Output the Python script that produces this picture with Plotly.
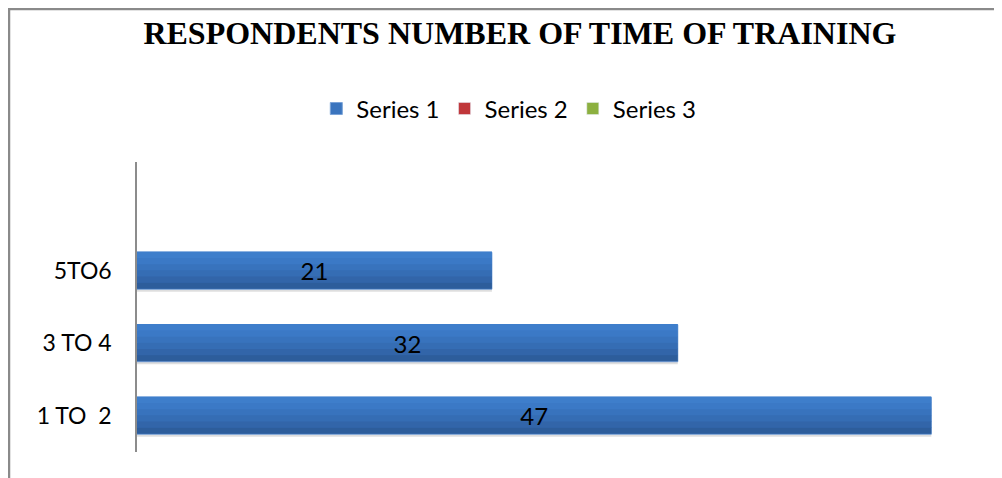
import plotly.graph_objects as go

categories = ["1 TO  2", "3 TO 4", "5TO6"]
series1 = [47, 32, 21]
series_names = ["Series 1", "Series 2", "Series 3"]
series_colors = ["#3a74be", "#c0373a", "#8cb040"]

# bar look: dark base with lighter bands towards the top (gradient-like)
bar_width = 0.51
band_colors = ["#2d5d9b", "#3265a9", "#356db4", "#3873bd", "#3b79c6", "#3e7ecb"]

fig = go.Figure()

# soft shadow under each bar
fig.add_trace(go.Bar(
    y=categories, x=series1, orientation="h", showlegend=False, hoverinfo="skip",
    marker=dict(color="rgba(0,0,0,0.13)", line=dict(width=0)),
    width=bar_width, offset=-bar_width / 2 - 0.035,
))

fig.add_trace(go.Bar(
    y=categories, x=series1, orientation="h", name=series_names[0],
    marker=dict(color=series_colors[0], line=dict(color="#7aa3d8", width=1)),
    width=bar_width,
    text=[str(v) for v in series1], textposition="none",
))

# gradient bands, drawn from the same values
n = len(band_colors)
step = bar_width / n
for i, c in enumerate(band_colors):
    fig.add_trace(go.Bar(
        y=categories, x=series1, orientation="h", showlegend=False, hoverinfo="skip",
        marker=dict(color=c, line=dict(width=0)),
        width=step + 0.005, offset=-bar_width / 2 + i * step + 0.006,
    ))

# value labels on top
fig.add_trace(go.Bar(
    y=categories, x=series1, orientation="h", showlegend=False, hoverinfo="skip",
    marker=dict(color="rgba(0,0,0,0)", line=dict(width=0)),
    width=bar_width,
    text=[str(v) for v in series1], textposition="inside", insidetextanchor="middle",
    textfont=dict(family="Lato, Open Sans, sans-serif", size=24, color="black"),
    constraintext="none",
))

# empty series, shown in the legend only
for name, color in zip(series_names[1:], series_colors[1:]):
    fig.add_trace(go.Bar(y=[None], x=[None], orientation="h", name=name,
                         marker=dict(color=color)))

fig.update_layout(
    width=994, height=470,
    margin=dict(l=129, r=20, t=154, b=26),
    paper_bgcolor="white", plot_bgcolor="white",
    barmode="overlay",
    title=dict(text="<b>RESPONDENTS NUMBER OF TIME OF TRAINING</b>",
               font=dict(family="Liberation Serif, Times New Roman, serif", size=32, color="black"),
               x=0.515, xanchor="center", y=0.947, yanchor="middle"),
    legend=dict(orientation="h", x=0.44, xanchor="center", y=1.183, yanchor="middle",
                font=dict(family="Lato, Open Sans, sans-serif", size=24, color="black"),
                itemwidth=30, traceorder="normal"),
    showlegend=True,
)

fig.update_xaxes(range=[0, 50], visible=False, showgrid=False)
fig.update_yaxes(
    type="category", categoryorder="array", categoryarray=categories,
    range=[-0.5, 3.5],
    tickvals=categories, ticktext=[c.replace("  ", " \u00a0") for c in categories],
    showline=True, linecolor="#8c8c8c", linewidth=1.5, showgrid=False,
    ticks="", ticklabelstandoff=19,
    tickfont=dict(family="Lato, Open Sans, sans-serif", size=23, color="black"),
)

# chart frame: only the top and left edges are visible
fx = -128 / 845
fy = 1 + 153 / 290
fig.add_shape(type="path", xref="paper", yref="paper",
              path=f"M {fx},-0.2 L {fx},{fy} L 1.3,{fy}",
              line=dict(color="#8a8a8a", width=2.5), layer="below")

fig.write_html("out.html", config={"displayModeBar": False})
